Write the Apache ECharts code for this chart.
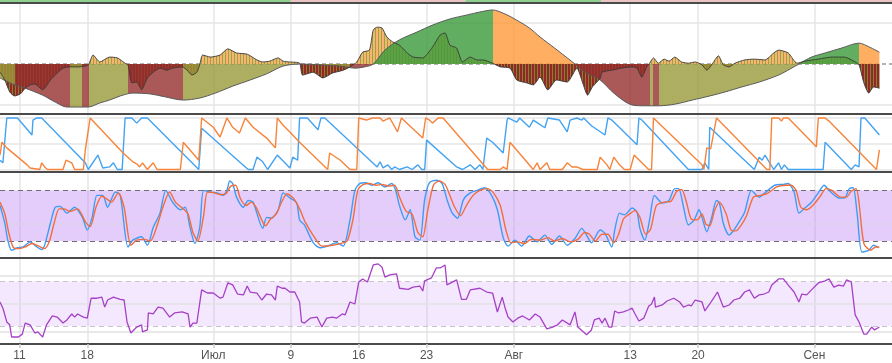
<!DOCTYPE html>
<html><head><meta charset="utf-8">
<script src="https://cdn.jsdelivr.net/npm/echarts@6/dist/echarts.min.js"></script>
<style>html,body{margin:0;padding:0;background:#fff}#c{width:892px;height:363px}</style>
</head><body><div id="c"></div>
<script>
// ---- time axis: days from 2018-06-09 ----
const startDate = Date.UTC(2018, 5, 9);
const dayCount = 92;
const categories = [];
for (let i = 0; i <= dayCount; i++) categories.push(new Date(startDate + i * 86400000).toISOString().slice(0, 10));
const tickDays = [2, 9, 22, 30, 37, 44, 53, 65, 72, 84];
const tickLabels = ['11', '18', 'Июл', '9', '16', '23', 'Авг', '13', '20', 'Сен'];

// ---- price strip (cut off at top) ----
const stripPhases = [[0, 30, 'bull'], [30, 48, 'bear'], [48, 62, 'bull'], [62, 92, 'bear']];

// ---- oscillator histogram [day, value] ----
const histogram = [[0.0,-0.20],[0.5,-0.39],[1.0,-0.68],[1.5,-0.78],[2.1,-0.73],[2.6,-0.59],[3.1,-0.51],[3.6,-0.49],[4.4,-0.63],[5.2,-0.39],[5.9,-0.22],[6.5,-0.10],[7.2,-0.07],[8.2,-0.07],[9.1,-0.02],[9.6,0.22],[10.3,0.05],[11.3,0.17],[12.1,0.15],[12.9,0.02],[13.2,-0.02],[13.6,-0.46],[14.1,-0.44],[14.6,-0.63],[15.2,-0.34],[15.8,-0.20],[16.5,-0.10],[17.2,-0.15],[17.8,-0.10],[18.8,-0.07],[19.3,-0.15],[19.8,-0.27],[20.3,-0.20],[20.6,-0.02],[20.9,0.22],[21.7,0.17],[22.7,0.22],[23.5,0.37],[24.4,0.27],[25.5,0.24],[26.5,0.10],[27.1,0.05],[27.8,0.07],[28.7,0.15],[29.2,0.07],[29.9,0.05],[30.9,0.02],[31.2,-0.27],[32.3,-0.20],[33.3,-0.34],[34.3,-0.22],[35.4,-0.15],[36.1,-0.07],[36.8,0.05],[37.4,0.29],[38.1,0.34],[38.5,0.83],[38.9,0.90],[39.4,0.88],[39.9,0.66],[40.5,0.54],[41.2,0.46],[42.0,0.27],[42.6,0.17],[43.6,0.15],[44.6,0.41],[45.4,0.71],[45.9,0.76],[46.4,0.46],[47.1,0.39],[47.7,0.05],[48.5,0.17],[49.2,0.10],[49.8,0.10],[50.8,0.02],[51.6,-0.07],[52.6,-0.10],[53.3,-0.39],[54.3,-0.46],[55.0,-0.51],[55.7,-0.32],[56.5,-0.63],[57.4,-0.39],[58.5,-0.44],[59.5,-0.10],[60.1,-0.46],[60.6,-0.76],[61.1,-0.56],[61.9,-0.35],[62.1,-0.20],[63.1,-0.15],[64.1,-0.10],[65.2,-0.07],[65.7,-0.10],[66.2,-0.32],[66.7,-0.07],[67.0,0.02],[67.4,0.15],[67.9,0.02],[68.5,0.12],[69.0,0.07],[69.6,0.17],[70.3,0.05],[71.0,0.02],[71.7,0.05],[72.4,-0.02],[72.9,-0.15],[73.4,-0.02],[74.1,0.20],[74.6,-0.02],[75.2,-0.07],[75.8,0.02],[76.8,0.10],[77.8,0.12],[78.9,0.10],[79.8,0.27],[80.3,0.34],[81.3,0.27],[82.2,0.02],[83.0,0.07],[84.4,0.12],[85.8,0.17],[87.1,0.17],[88.2,0.05],[88.6,-0.02],[89.1,-0.46],[89.6,-0.71],[90.1,-0.56],[90.7,-0.59]];

// ---- slow trend oscillator [day, value] ----
const trend = [[0,-0.34],[1.3,-0.49],[2.6,-0.59],[4.4,-0.76],[5.7,-0.93],[6.9,-1.05],[8.2,-1.05],[9.1,-1.05],[10.3,-0.95],[11.3,-0.88],[12.4,-0.78],[13.7,-0.71],[15.5,-0.73],[17.0,-0.80],[18.9,-0.88],[20.6,-0.83],[22.2,-0.71],[24.0,-0.54],[25.8,-0.39],[27.5,-0.24],[29.2,-0.05],[30.9,0.0],[33.0,-0.02],[35.1,-0.05],[36.6,-0.10],[37.6,-0.07],[38.5,0.0],[39.7,0.34],[41.2,0.59],[43.0,0.78],[44.6,0.95],[46.4,1.10],[48.2,1.20],[49.5,1.27],[50.8,1.32],[52.1,1.22],[53.3,1.07],[54.6,0.88],[55.7,0.66],[57.2,0.39],[58.5,0.15],[59.3,0.0],[60.3,-0.20],[61.9,-0.39],[63.4,-0.73],[65.2,-1.00],[66.5,-1.02],[67.9,-1.02],[69.6,-0.98],[71.4,-0.88],[73.2,-0.78],[74.8,-0.68],[76.5,-0.56],[78.3,-0.44],[80.3,-0.27],[81.5,-0.12],[82.4,0.0],[83.7,0.17],[85.1,0.27],[86.8,0.39],[88.6,0.51],[89.7,0.41],[90.7,0.29]];
const trendPhases = [[0,1.5,'up-'],[1.5,7.2,'down-'],[7.2,8.5,'up-'],[8.5,9.2,'down-'],[9.2,13.2,'up-'],[13.2,18.9,'down-'],[18.9,36.1,'up-'],[36.1,38.5,'down-'],[38.5,50.8,'up+'],[50.8,59.3,'down+'],[59.3,67.0,'down-'],[67.0,67.4,'up-'],[67.4,68.0,'down-'],[68.0,82.4,'up-'],[82.4,88.6,'up+'],[88.6,92,'down+']];

// ---- Aroon ----
const aroonUp = [[0.0,18],[0.3,13],[0.7,100],[1.8,100],[3.3,67],[3.4,96],[3.8,100],[4.3,100],[8.8,13],[9.1,0],[10.1,28],[10.6,3],[11.3,5],[11.7,13],[12.1,0],[12.6,0],[12.9,100],[13.6,100],[14.1,90],[14.6,100],[15.2,100],[20.5,0],[20.8,80],[25.3,5],[25.6,0],[26.1,0],[26.5,24],[27.1,15],[27.6,0],[28.6,28],[29.9,3],[30.2,24],[30.7,18],[30.9,100],[31.7,100],[32.8,77],[33.1,100],[33.5,100],[38.9,5],[39.2,15],[39.5,3],[40.0,9],[40.4,0],[40.7,5],[41.2,0],[42.0,5],[42.5,0],[43.1,9],[43.5,0],[43.8,0],[44.0,57],[47.1,5],[47.7,0],[48.5,9],[49.0,0],[49.5,9],[49.8,0],[50.2,61],[50.8,53],[51.9,32],[52.3,96],[52.4,100],[53.3,92],[53.6,100],[54.6,82],[55.0,96],[56.2,81],[56.5,100],[57.7,96],[58.5,73],[58.8,96],[59.5,100],[60.0,96],[60.2,100],[61.0,85],[62.4,67],[62.7,100],[63.1,96],[65.7,48],[65.9,100],[66.2,96],[71.0,0],[72.4,0],[72.7,13],[73.1,0],[73.2,82],[73.4,84],[77.8,0],[78.3,24],[78.6,18],[78.9,28],[79.8,0],[80.3,13],[80.6,0],[80.9,9],[81.3,0],[84.9,0],[85.1,53],[87.8,0],[88.2,9],[88.6,5],[88.8,100],[89.2,100],[90.7,67]];
const aroonDown = [[0.0,28],[0.2,53],[0.7,42],[2.8,9],[3.1,3],[4.1,0],[4.3,13],[4.6,5],[4.9,0],[6.5,0],[6.8,18],[7.4,13],[7.7,0],[8.6,0],[8.8,38],[9.0,38],[9.3,100],[12.7,32],[13.7,15],[14.1,11],[14.4,5],[14.7,13],[15.2,0],[15.8,13],[16.2,0],[18.6,0],[18.9,53],[19.6,38],[20.5,18],[20.8,100],[22.0,82],[22.7,63],[23.4,100],[24.0,82],[24.7,71],[25.3,100],[26.1,82],[27.5,61],[28.4,42],[28.6,100],[29.2,86],[29.9,73],[30.9,53],[33.8,0],[34.0,32],[35.1,18],[36.1,0],[36.8,0],[37.0,100],[37.8,96],[38.4,100],[39.2,100],[39.5,94],[40.2,100],[41.0,73],[41.4,100],[43.6,61],[43.9,100],[44.3,96],[44.6,90],[45.2,100],[45.7,100],[50.3,0],[51.6,0],[51.9,5],[52.3,0],[52.6,53],[55.0,0],[55.4,13],[55.7,0],[56.4,13],[56.7,0],[58.0,0],[58.5,13],[59.0,5],[59.5,5],[60.1,0],[61.6,0],[61.9,24],[62.6,9],[62.9,0],[63.3,24],[63.9,9],[64.4,0],[65.0,0],[65.4,28],[66.2,13],[66.9,0],[67.2,0],[67.4,100],[72.4,9],[72.6,0],[72.9,42],[73.3,40],[73.9,100],[79.1,0],[79.4,0],[79.6,100],[80.3,100],[80.6,94],[80.8,100],[81.3,100],[84.2,44],[84.4,100],[85.1,100],[85.5,94],[90.4,0],[90.7,38]];

// ---- Stochastic ----
const stochK = [[0,62],[0.5,41],[0.8,21],[1.2,9],[1.8,12],[2.4,13],[3.1,19],[3.8,13],[4.3,10],[4.6,15],[5.2,41],[5.7,60],[6.2,61],[6.9,53],[7.7,60],[8.5,48],[9.0,33],[9.5,48],[10.0,74],[10.6,74],[11.1,60],[11.9,78],[12.4,74],[13.2,13],[13.7,21],[14.6,25],[15.2,15],[15.8,36],[16.5,53],[17.1,80],[17.8,66],[18.6,57],[19.1,60],[19.6,36],[20.1,17],[20.6,36],[21.0,80],[21.7,78],[22.4,77],[23.0,74],[23.4,80],[23.7,91],[24.0,88],[24.4,72],[25.1,60],[25.6,68],[26.1,66],[27.1,35],[27.5,48],[28.0,47],[28.7,57],[29.2,77],[29.9,71],[30.6,65],[30.9,45],[31.4,39],[32.3,18],[33.0,12],[34.0,15],[34.7,18],[35.4,14],[36.1,45],[36.6,80],[37.1,88],[37.7,89],[38.4,86],[39.0,89],[39.7,84],[40.4,88],[40.8,80],[41.2,62],[41.8,45],[42.3,57],[42.8,25],[43.3,21],[43.8,69],[44.3,89],[45.0,92],[45.6,88],[46.1,69],[46.6,54],[47.2,47],[47.8,69],[48.5,77],[49.2,80],[50.0,83],[50.7,74],[51.3,57],[51.9,24],[52.4,14],[53.1,21],[53.8,14],[54.6,26],[55.4,19],[56.2,27],[56.9,16],[57.7,26],[58.5,15],[59.3,23],[60.0,35],[60.5,27],[61.0,18],[61.9,33],[62.4,29],[63.1,13],[63.4,33],[63.9,53],[64.4,51],[65.2,59],[65.7,54],[66.0,35],[66.5,21],[67.0,45],[67.5,74],[68.3,65],[69.0,68],[69.6,82],[70.0,82],[70.5,60],[71.0,39],[71.6,45],[72.1,57],[72.4,48],[72.9,31],[73.4,48],[73.9,68],[74.2,65],[74.6,41],[75.2,27],[75.7,33],[76.2,42],[76.8,54],[77.5,80],[78.3,72],[78.9,77],[79.9,86],[80.8,87],[81.3,88],[81.9,78],[82.4,53],[83.0,59],[83.7,66],[84.4,77],[85.0,86],[85.5,80],[86.5,71],[87.1,71],[87.6,82],[88.0,83],[88.4,53],[88.9,7],[89.6,9],[90.1,15],[90.6,12]];
const stochD = [[0,66],[0.5,52],[0.9,30],[1.4,12],[2.0,11],[2.6,13],[3.3,17],[4.0,14],[4.6,11],[5.1,20],[5.6,42],[6.1,58],[6.6,58],[7.2,55],[8.0,58],[8.8,43],[9.3,37],[9.9,60],[10.5,73],[11.0,70],[11.5,66],[12.2,77],[12.8,60],[13.5,15],[14.1,21],[14.9,22],[15.5,20],[16.2,38],[16.8,60],[17.5,78],[18.1,66],[18.9,58],[19.4,52],[19.9,30],[20.4,20],[21.0,50],[21.4,78],[22.1,77],[22.7,75],[23.3,76],[23.8,85],[24.3,86],[24.8,70],[25.4,62],[25.9,66],[26.4,60],[27.4,38],[27.9,46],[28.5,52],[29.0,65],[29.6,76],[30.3,70],[30.9,58],[31.5,42],[32.4,25],[33.2,14],[34.3,15],[35.1,17],[35.8,20],[36.4,45],[36.9,80],[37.5,87],[38.1,88],[38.8,86],[39.4,87],[40.1,85],[40.7,86],[41.2,72],[41.9,55],[42.5,52],[43.1,30],[43.6,25],[44.1,55],[44.7,86],[45.3,91],[45.9,87],[46.4,74],[46.9,60],[47.5,50],[48.1,62],[48.8,74],[49.5,80],[50.3,82],[50.9,77],[51.6,62],[52.2,32],[52.7,18],[53.4,19],[54.1,17],[54.8,22],[55.7,21],[56.5,24],[57.2,20],[58.0,23],[58.8,19],[59.6,22],[60.3,30],[60.8,28],[61.4,20],[62.1,28],[62.7,28],[63.3,18],[63.8,28],[64.3,46],[64.8,51],[65.5,56],[66.0,48],[66.6,28],[67.1,34],[67.7,62],[68.5,66],[69.2,67],[69.8,79],[70.3,81],[70.8,66],[71.3,46],[71.9,45],[72.4,52],[72.8,40],[73.2,38],[73.7,56],[74.2,66],[74.9,52],[75.4,33],[75.9,32],[76.4,38],[77.0,50],[77.7,72],[78.4,74],[79.1,76],[80.1,84],[81.0,86],[81.6,86],[82.1,80],[82.6,60],[83.2,57],[83.9,63],[84.6,73],[85.2,82],[85.8,80],[86.7,72],[87.3,72],[87.8,79],[88.3,82],[88.6,65],[89.1,17],[89.8,9],[90.3,13],[90.7,13]];

// ---- RSI ----
const rsi = [[0,51.6],[0.3,46],[0.7,33.6],[1.0,31],[1.2,20],[1.9,20],[2.3,22.6],[2.6,32.6],[3.1,31],[3.6,23.6],[3.9,24.6],[4.4,20],[4.8,31],[5.4,39],[5.9,38],[6.5,32.6],[6.9,35.4],[7.4,40.8],[7.7,38],[8.0,40.8],[8.6,38],[9.0,37],[9.4,55],[10.0,55],[10.5,56],[10.8,47],[11.1,53.4],[11.7,56],[12.4,54],[12.8,53.4],[13.1,33.6],[13.5,23.6],[14.1,29],[14.6,31],[14.7,24.6],[15.2,26.4],[15.3,41.7],[15.8,40.8],[16.3,47],[16.8,46],[17.5,38],[18.0,41.7],[18.8,42.6],[19.4,40.8],[19.6,29],[19.9,32.6],[20.3,32.6],[20.8,62.5],[21.4,59.7],[22.0,59.7],[22.7,55],[23.0,56],[23.5,68.8],[24.0,67],[24.5,58.8],[25.1,58],[25.5,66],[25.8,60.6],[26.5,59.7],[27.0,53.4],[27.5,58.8],[28.0,58],[28.4,53.4],[28.6,66],[29.1,64],[29.4,64],[29.9,60.6],[30.4,60.6],[30.9,51.6],[31.1,33.6],[31.4,32.6],[32.0,37],[32.7,38],[33.2,29],[33.7,37],[34.3,38],[34.7,37],[35.3,40.8],[35.6,40],[36.1,51.6],[36.6,49.8],[37.0,69.7],[37.4,72.4],[37.9,69.7],[38.5,85],[39.0,86],[39.4,83],[39.7,74],[40.2,76],[40.9,77],[41.2,64],[42.1,63],[42.6,65],[43.3,66],[43.6,61.5],[43.8,70.6],[44.5,73.3],[45.0,82.3],[45.4,82.3],[45.9,85],[46.1,67],[46.7,69.7],[47.1,71.5],[47.6,54],[48.1,54],[48.5,62.5],[49.5,64],[50.2,60.6],[50.8,59.7],[51.3,42.6],[51.8,56],[52.1,46],[52.4,38],[52.9,33.6],[53.4,37],[53.9,39],[54.6,35.4],[55.2,40.8],[55.7,38],[56.4,27.3],[57.0,29],[57.5,31],[58.0,35.4],[58.8,31],[59.3,42.6],[59.6,29],[60.5,22],[61.0,26.4],[61.3,35.4],[61.8,37],[62.1,32.6],[62.4,37],[62.8,29],[63.1,29],[63.4,43.5],[63.8,41.7],[64.3,42.6],[64.8,44.4],[65.2,46],[65.5,40.8],[65.9,34.5],[66.4,37],[66.9,47.8],[67.2,49.8],[67.5,56],[67.6,47],[68.3,48.9],[68.8,52.5],[69.5,55],[70.1,51.6],[70.5,47],[71.0,48.9],[71.3,48],[71.7,53.4],[72.4,51.6],[72.7,43.5],[73.2,49.8],[73.6,55],[74.0,60.6],[74.6,47],[75.2,48.9],[75.7,53.4],[76.3,55],[76.8,60.6],[77.3,62.5],[77.8,55],[78.3,58],[78.8,58.8],[79.3,60.6],[79.6,66.9],[80.3,72.4],[80.8,72.4],[81.3,66.9],[81.9,60.6],[82.4,51.6],[82.7,58.8],[83.2,58],[83.7,62.5],[84.4,68.8],[85.1,70.6],[85.5,72.4],[86.0,65],[86.5,66.9],[87.0,66],[87.3,71.5],[87.8,69.7],[88.2,40],[88.6,33.6],[89.1,22.6],[89.4,22.6],[89.9,29],[90.2,26.4],[90.7,29]];

// ---------------- styling ----------------
const phaseColor = {'up+': '#3a9a3a', 'down+': '#ff9a3a', 'down-': '#962e2e', 'up-': '#9a9a3a'};
const histPosColor = '#f6b06a', histNegColor = '#8e1c1c';
const stripColor = {bull: '#8fcf8f', bear: '#eac3c3'};
const FONT = 'Liberation Sans, Arial, sans-serif';
const isTick = (i) => tickDays.indexOf(i) >= 0;
const gridColor = '#e6e6e6';
const borderColor = '#4a4a4a';

const chart = echarts.init(document.getElementById('c'), null, {renderer: 'canvas', width: 892, height: 363});

const gridDefs = [
  {top: 0, height: 3},
  {top: 3, height: 111},
  {top: 115, height: 57},
  {top: 172, height: 86},
  {top: 258, height: 86}
];
const grid = gridDefs.map(g => ({left: 0, right: 0, top: g.top, height: g.height, outerBoundsMode: 'none', containLabel: false}));

function catAxis(gi, withLabels) {
  return {
    type: 'category', gridIndex: gi, data: categories, boundaryGap: false, position: 'bottom',
    axisLine: {show: true, onZero: false, lineStyle: {color: borderColor, width: 2}},
    axisTick: {show: withLabels, interval: isTick, length: 4, lineStyle: {color: '#cccccc', width: 1.5}},
    axisLabel: {show: withLabels, interval: isTick, formatter: (v, i) => tickLabels[tickDays.indexOf(i)] || '',
      color: '#555', fontSize: 12, margin: 6, fontFamily: FONT},
    splitLine: {show: true, interval: isTick, lineStyle: {color: gridColor, width: 1.5}}
  };
}
function valAxisX(gi) {
  return {type: 'value', gridIndex: gi, min: 0, max: dayCount, show: false, position: 'bottom'};
}

const xAxis = [
  valAxisX(0), catAxis(1, false), valAxisX(1), catAxis(2, false), valAxisX(2),
  catAxis(3, false), valAxisX(3), catAxis(4, true), valAxisX(4),
  {type: 'category', gridIndex: 1, data: categories, boundaryGap: false, position: 'top',
   axisLine: {show: true, onZero: false, lineStyle: {color: borderColor, width: 2}},
   axisTick: {show: false}, axisLabel: {show: false}, splitLine: {show: false}}
];
const yAxis = [
  {type: 'value', gridIndex: 0, min: 0, max: 1, show: false},
  {type: 'value', gridIndex: 1, min: -1.22, max: 1.49, show: false},
  {type: 'value', gridIndex: 2, min: -4.85, max: 105.8, show: false},
  {type: 'value', gridIndex: 3, min: -0.1, max: 101.7, show: false},
  {type: 'value', gridIndex: 4, min: 13.7, max: 91.3, show: false}
];

function hLine(v, color, type, width) {
  return {yAxis: v, lineStyle: {color: color, type: type || 'solid', width: width || 1}};
}
function lines(items) {
  return {silent: true, symbol: ['none', 'none'], z: 1, animation: false, label: {show: false}, data: items};
}
const baseLine = {type: 'line', showSymbol: false, symbol: 'none', animation: false, silent: true};
const stripeDecal = {symbol: 'rect', symbolSize: 1, dashArrayX: [1, 2], dashArrayY: [10, 0], color: 'rgba(125,160,50,0.8)', rotation: 0};

const series = [
  Object.assign({}, baseLine, {
    xAxisIndex: 0, yAxisIndex: 0, data: [[0, 0.5], [dayCount, 0.5]], lineStyle: {opacity: 0},
    markArea: {silent: true, z: 0, animation: false,
      data: stripPhases.map(p => [{xAxis: p[0], itemStyle: {color: stripColor[p[2]]}}, {xAxis: p[1]}])}
  }),
  Object.assign({}, baseLine, {
    name: 'hist', xAxisIndex: 2, yAxisIndex: 1, data: histogram, smooth: 0.2, z: 2,
    lineStyle: {color: '#3a3a3a', width: 0},
    itemStyle: {color: histPosColor, decal: stripeDecal},
    areaStyle: {opacity: 0.95, color: histPosColor},
    markLine: lines([hLine(1, gridColor, 'solid', 1.5), hLine(-1, gridColor, 'solid', 1.5), hLine(0, '#9a9a9a', [4, 3], 1.5)])
  }),
  Object.assign({}, baseLine, {
    name: 'trend', xAxisIndex: 2, yAxisIndex: 1, data: trend, smooth: 0.3, z: 3,
    lineStyle: {color: '#5a5a5a', width: 1},
    areaStyle: {opacity: 0.8, color: '#9a9a3a'}
  }),
  Object.assign({}, baseLine, {
    name: 'histLine', xAxisIndex: 2, yAxisIndex: 1, data: histogram, smooth: 0.2, z: 4,
    lineStyle: {color: '#3a3a3a', width: 0.9}
  }),
  Object.assign({}, baseLine, {
    name: 'aroonUp', xAxisIndex: 4, yAxisIndex: 2, data: aroonUp, z: 3,
    lineStyle: {color: '#43a3f3', width: 1.4},
    markLine: lines([hLine(100, gridColor, 'solid', 1.5), hLine(50, gridColor, 'solid', 1.5), hLine(0, gridColor, 'solid', 1.5)])
  }),
  Object.assign({}, baseLine, {
    name: 'aroonDown', xAxisIndex: 4, yAxisIndex: 2, data: aroonDown, z: 3,
    lineStyle: {color: '#f7843a', width: 1.4}
  }),
  Object.assign({}, baseLine, {
    name: 'stochK', xAxisIndex: 6, yAxisIndex: 3, data: stochK, smooth: 0.25, z: 3,
    lineStyle: {color: '#3f9cf2', width: 1.4},
    markArea: {silent: true, z: 0, animation: false, itemStyle: {color: 'rgba(190,130,245,0.4)'}, data: [[{yAxis: 20}, {yAxis: 80}]]},
    markLine: lines([hLine(40, '#dcd0ea', 'solid', 1.5), hLine(80, '#6e6e6e', [5, 4], 1.2), hLine(20, '#6e6e6e', [5, 4], 1.2)])
  }),
  Object.assign({}, baseLine, {
    name: 'stochD', xAxisIndex: 6, yAxisIndex: 3, data: stochD, smooth: 0.25, z: 3,
    lineStyle: {color: '#f26d3d', width: 1.4}
  }),
  Object.assign({}, baseLine, {
    name: 'rsi', xAxisIndex: 8, yAxisIndex: 4, data: rsi, z: 3,
    lineStyle: {color: '#a640c6', width: 1.3},
    markArea: {silent: true, z: 0, animation: false, itemStyle: {color: 'rgba(200,150,250,0.22)'}, data: [[{yAxis: 30}, {yAxis: 70}]]},
    markLine: lines([hLine(75, '#e2e2e2', 'solid', 1.5), hLine(50, '#e2e2e2', 'solid', 1.5), hLine(25, '#e2e2e2', 'solid', 1.5),
      hLine(70, '#c6c6c6', [5, 4], 1.2), hLine(30, '#c6c6c6', [5, 4], 1.2)])
  })
];

chart.setOption({
  animation: false,
  backgroundColor: '#ffffff',
  grid: grid, xAxis: xAxis, yAxis: yAxis, series: series
});

// colour fills positioned through the chart's own scales
function applyFills() {
  const px = (v) => chart.convertToPixel({seriesIndex: 2}, v);
  const top = px([0, 1.49])[1], zero = px([0, 0])[1], bottom = px([0, -1.22])[1];
  const f = (zero - top) / (bottom - top);
  const histFill = new echarts.graphic.LinearGradient(0, top, 0, bottom, [
    {offset: 0, color: histPosColor}, {offset: f, color: histPosColor},
    {offset: f, color: histNegColor}, {offset: 1, color: histNegColor}], true);
  const x0 = px([0, 0])[0], x1 = px([dayCount, 0])[0];
  const stops = [];
  trendPhases.forEach(p => {
    const c = phaseColor[p[2]];
    stops.push({offset: (px([p[0], 0])[0] - x0) / (x1 - x0), color: c});
    stops.push({offset: (px([p[1], 0])[0] - x0) / (x1 - x0), color: c});
  });
  const trendFill = new echarts.graphic.LinearGradient(x0, 0, x1, 0, stops, true);
  chart.setOption({series: [{}, {areaStyle: {color: histFill}}, {areaStyle: {color: trendFill}}]});
}
applyFills();
</script>
</body></html>
